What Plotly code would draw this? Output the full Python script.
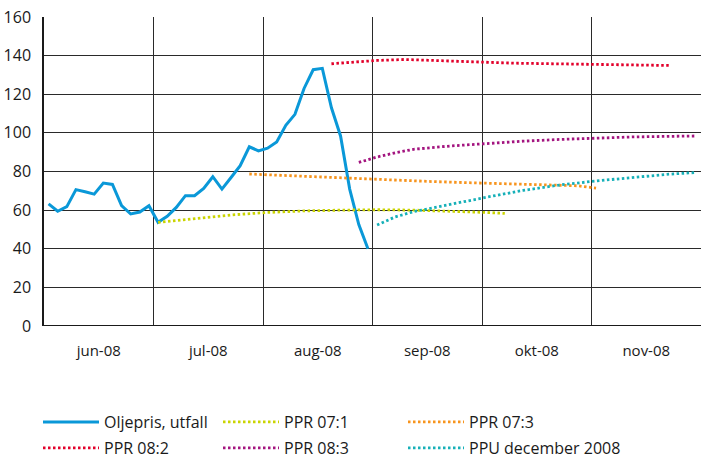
import plotly.graph_objects as go

# Band labels (each band = 12 steps on the x index)
month_labels = ["jun-08", "jul-08", "aug-08", "sep-08", "okt-08", "nov-08"]
steps_per_band = 12

# Oil price, actual (Oljepris, utfall)
oil_x = list(range(36))
oil_y = [63.2, 59.4, 61.8, 70.6, 69.5, 68.3, 74.0, 73.3, 62.3, 58.0, 59.0, 62.3,
         53.7, 56.8, 61.4, 67.5, 67.5, 71.2, 77.3, 70.9, 76.9, 83.0, 92.8, 90.7,
         92.1, 95.3, 103.9, 109.6, 123.0, 132.7, 133.4, 113.0, 98.4, 70.9, 52.5, 40.0]

ppr071_x = [12, 16, 20, 24, 28, 32, 36, 40, 44, 48, 50]
ppr071_y = [53.7, 55.5, 57.5, 58.8, 59.6, 60.0, 60.2, 60.0, 59.5, 58.8, 58.3]

ppr073_x = [22, 26, 30, 34, 38, 42, 46, 50, 54, 58, 60]
ppr073_y = [78.7, 77.9, 77.1, 76.2, 75.5, 74.8, 74.2, 73.7, 73.3, 72.6, 71.4]

ppr082_x = [31, 34, 36, 39, 42, 47, 51, 55, 60, 64, 68]
ppr082_y = [135.8, 136.8, 137.5, 138.0, 137.5, 136.5, 136.1, 135.8, 135.4, 135.2, 134.9]

ppr083_x = [34, 36, 38, 40, 44, 48, 52, 56, 60, 64, 68, 71]
ppr083_y = [84.7, 87.5, 89.7, 91.5, 93.2, 94.6, 95.7, 96.6, 97.4, 97.9, 98.2, 98.4]

ppu_x = [36, 38, 40, 44, 48, 52, 56, 60, 64, 68, 71]
ppu_y = [52.3, 56.5, 59.2, 63.0, 66.7, 70.2, 73.0, 75.1, 77.0, 78.6, 79.5]

y_ticks = [0, 20, 40, 60, 80, 100, 120, 140, 160]

FONT = "Open Sans"
dot = "2.5px,2.5px"

fig = go.Figure()
fig.add_trace(go.Scatter(x=oil_x, y=oil_y, mode="lines", name="Oljepris, utfall",
                         line=dict(color="#0a98d8", width=3), legend="legend"))
fig.add_trace(go.Scatter(x=ppr071_x, y=ppr071_y, mode="lines", name="PPR 07:1",
                         line=dict(color="#cad400", width=2.8, dash=dot), legend="legend"))
fig.add_trace(go.Scatter(x=ppr073_x, y=ppr073_y, mode="lines", name="PPR 07:3",
                         line=dict(color="#f7941d", width=2.8, dash=dot), legend="legend3"))
fig.add_trace(go.Scatter(x=ppr082_x, y=ppr082_y, mode="lines", name="PPR 08:2",
                         line=dict(color="#e2002a", width=2.8, dash=dot), legend="legend2"))
fig.add_trace(go.Scatter(x=ppr083_x, y=ppr083_y, mode="lines", name="PPR 08:3",
                         line=dict(color="#a3147f", width=2.8, dash=dot), legend="legend2"))
fig.add_trace(go.Scatter(x=ppu_x, y=ppu_y, mode="lines", name="PPU december 2008",
                         line=dict(color="#16b0b8", width=2.8, dash=dot), legend="legend4"))

n_bands = len(month_labels)
centers = [steps_per_band * k + (steps_per_band - 1) / 2 for k in range(n_bands)]
bounds = [steps_per_band * k - 0.5 for k in range(1, n_bands)]

leg_common = dict(orientation="h", xref="container", yref="container",
                  xanchor="left", yanchor="middle",
                  font=dict(size=16), itemwidth=56, bgcolor="rgba(0,0,0,0)")
row1_y = 1 - 422 / 459
row2_y = 1 - 448 / 459
col1_x = 38 / 702
col3_x = 403 / 702

fig.update_layout(
    width=702, height=459,
    margin=dict(l=44, r=1, t=17, b=133, autoexpand=False),
    paper_bgcolor="white", plot_bgcolor="white",
    font=dict(family=FONT, size=15, color="#1a1a1a"),
    showlegend=True,
    legend=dict(x=col1_x, y=row1_y, entrywidth=109, **leg_common),
    legend2=dict(x=col1_x, y=row2_y, entrywidth=109, **leg_common),
    legend3=dict(x=col3_x, y=row1_y, entrywidth=0, **leg_common),
    legend4=dict(x=col3_x, y=row2_y, entrywidth=0, **leg_common),
    xaxis=dict(range=[-0.5, steps_per_band * n_bands - 0.5], automargin=False,
               tickmode="array", tickvals=centers, ticktext=month_labels,
               showgrid=False, zeroline=False, showline=False,
               ticks="", ticklabelstandoff=14,
               minor=dict(tickmode="array", tickvals=bounds, showgrid=True,
                          gridcolor="#2a2a2a", gridwidth=1)),
    yaxis=dict(range=[0, 160], tickmode="array", tickvals=y_ticks, automargin=False,
               showgrid=True, gridcolor="#2a2a2a", gridwidth=1,
               zeroline=False, showline=True, linecolor="#1a1a1a", linewidth=1.5,
               ticks="", ticklabelstandoff=8, tickfont=dict(size=16)),
)
fig.add_hline(y=0, line=dict(color="#1a1a1a", width=2), layer="above")

fig.write_html("out.html", config={"displayModeBar": False},
               post_script="document.body.style.margin='0';document.body.style.overflow='hidden';")
